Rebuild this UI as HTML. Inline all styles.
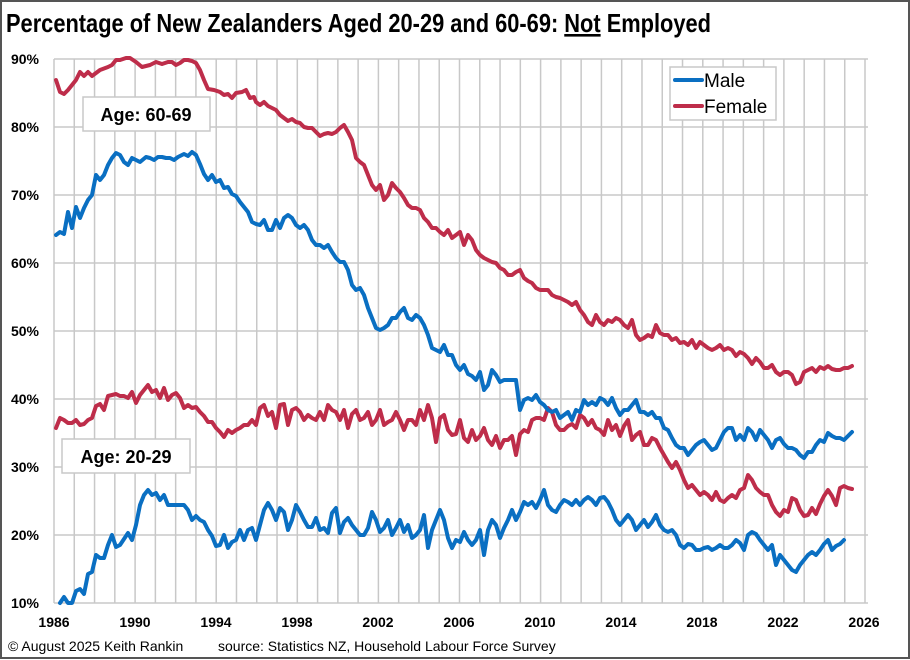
<!DOCTYPE html>
<html><head><meta charset="utf-8"><style>
body{margin:0;background:#fff}
svg{display:block}
text{font-family:"Liberation Sans",Arial,sans-serif}
</style></head><body>
<svg width="910" height="660" viewBox="0 0 910 660" xmlns="http://www.w3.org/2000/svg">
<rect x="1" y="1" width="908" height="657" fill="#fff" stroke="#555" stroke-width="2"/>
<text x="6" y="32" font-size="26" font-weight="bold" textLength="705" lengthAdjust="spacingAndGlyphs">Percentage of New Zealanders Aged 20-29 and 60-69: <tspan text-decoration="underline">Not</tspan> Employed</text>
<g id="grid" stroke="#c8c8c8" stroke-width="1.5"></g>
<g font-size="14" font-weight="bold" text-anchor="end">
<text x="39" y="64">90%</text><text x="39" y="132">80%</text><text x="39" y="200">70%</text><text x="39" y="268">60%</text><text x="39" y="336">50%</text><text x="39" y="404">40%</text><text x="39" y="472">30%</text><text x="39" y="540">20%</text><text x="39" y="608">10%</text>
</g>
<g font-size="14" font-weight="bold" text-anchor="middle">
<text x="54" y="627">1986</text><text x="135" y="627">1990</text><text x="216" y="627">1994</text><text x="297" y="627">1998</text><text x="378" y="627">2002</text><text x="459" y="627">2006</text><text x="540" y="627">2010</text><text x="621" y="627">2014</text><text x="702" y="627">2018</text><text x="783" y="627">2022</text><text x="864" y="627">2026</text>
</g>
<text x="8" y="651" font-size="14">© August 2025 Keith Rankin</text>
<text x="218" y="651" font-size="14">source: Statistics NZ, Household Labour Force Survey</text>
<g fill="none" stroke-width="4" stroke-linejoin="round" stroke-linecap="round">
<polyline stroke="#be2d4a" points="56,80 60,92 64,94 68,90 72,85 76,80 80,72 84,76 88,72 92,76 96,73 100,70 108,67 112,65 116,60 120,60 126,58 130,58 136,62 142,67 150,65 156,62 162,64 168,62 172,62 176,65 180,63 184,60 188,60 192,61 196,63 200,70 204,80 208,89 214,90 220,92 224,95 228,94 232,98 236,93 242,92 246,90 250,98 254,97 256,102 260,105 264,102 268,106 272,108 276,110 280,115 284,118 288,121 292,119 296,122 300,123 304,127 308,128 312,128 316,132 320,136 324,134 328,133 332,134 336,132 340,128 344,125 348,132 352,140 356,158 360,162 364,165 368,175 372,185 376,190 380,185 384,200 388,195 392,183 396,188 400,192 404,198 408,205 412,208 416,208 420,210 424,218 428,222 432,228 436,228 440,232 444,235 448,230 452,238 456,235 460,232 464,245 468,235 472,240 476,250 480,255 484,258 488,260 492,262 496,263 500,268 504,270 508,275 512,275 516,272 520,270 524,278 528,281 532,283 536,288 540,290 544,290 548,290 552,295 556,297 560,298 564,300 568,302 572,305 576,302 580,310 584,315 588,322 592,325 596,315 600,322 604,325 608,320 612,322 616,318 620,320 624,325 628,328 632,320 636,335 640,340 644,338 648,335 652,337 656,325 660,333 664,335 668,335 672,340 676,338 680,343 684,342 688,345 692,340 696,348 700,342 704,345 708,348 712,350 716,348 720,345 724,350 728,348 732,350 736,356 740,352 744,354 748,358 752,364 756,358 760,362 764,368 768,368 772,365 776,372 780,375 784,372 788,372 792,375 796,384 800,382 804,372 808,370 812,368 816,372 820,367 824,369 828,366 832,369 836,370 840,370 844,368 848,368 852,366"/>
<polyline stroke="#be2d4a" points="56,428 60,418 64,420 68,423 72,423 76,420 80,425 84,424 88,420 92,418 96,406 100,404 104,410 108,396 112,395 116,394 120,396 124,396 128,398 132,392 136,403 140,395 144,390 148,385 152,392 156,390 160,398 164,388 168,400 172,395 176,393 180,398 184,408 188,405 192,408 196,407 200,412 204,416 208,422 212,422 216,428 220,432 224,437 228,430 232,433 236,430 240,428 244,425 248,425 252,420 256,425 260,408 264,405 268,416 272,412 276,428 280,405 284,404 288,425 292,410 296,408 300,412 304,420 308,415 312,418 316,420 320,412 324,420 328,405 332,410 336,412 340,420 344,410 348,428 352,414 356,410 360,420 364,418 368,412 372,425 376,420 380,410 384,425 388,422 392,420 396,412 400,420 404,430 408,420 412,420 416,425 420,410 424,420 428,405 432,418 436,442 440,418 444,415 448,430 452,435 456,434 460,420 464,438 468,442 472,430 476,440 480,436 484,428 488,440 492,445 496,436 500,448 504,440 508,440 512,436 516,455 520,434 524,430 528,432 532,420 536,418 540,418 544,420 548,408 552,412 556,425 560,430 564,430 568,426 572,424 576,428 580,415 584,418 588,425 592,420 596,428 600,430 604,435 608,420 612,430 616,425 620,436 624,426 628,420 632,440 636,435 640,432 644,445 648,445 652,438 656,440 660,448 664,455 668,462 672,468 676,462 680,470 684,480 688,488 692,485 696,490 700,495 704,492 708,495 712,500 716,492 720,500 724,502 728,498 732,495 736,498 740,490 744,488 748,475 752,480 756,488 760,492 764,495 768,495 772,505 776,512 780,516 784,510 788,512 792,498 796,500 800,510 804,516 808,515 812,508 816,514 820,504 824,496 828,490 832,496 836,505 840,488 844,486 848,488 852,489"/>
<polyline stroke="#0a6fc2" points="56,235 60,232 64,234 68,212 72,228 76,207 80,218 84,208 88,200 92,195 96,175 100,180 104,175 108,165 112,158 116,153 120,155 124,162 128,165 132,158 136,160 140,162 146,157 150,158 154,160 158,157 162,157 166,158 170,158 174,160 178,157 184,154 188,156 192,152 196,155 200,164 204,174 208,180 212,175 216,182 220,180 224,188 228,187 232,194 236,196 240,202 244,207 248,212 252,222 256,224 260,225 264,220 268,230 272,230 276,220 280,228 284,218 288,215 292,218 296,225 300,228 304,225 308,230 312,240 316,245 320,245 324,248 328,245 332,252 336,258 340,262 344,262 348,270 352,285 356,290 360,288 364,295 368,308 372,318 376,328 380,330 384,328 388,325 392,318 396,318 400,312 404,308 408,318 412,320 416,315 420,318 424,325 428,335 432,348 436,350 440,352 444,345 448,355 452,355 456,365 460,370 464,365 468,374 472,376 476,380 480,372 484,390 488,385 492,370 496,375 500,382 504,380 508,380 512,380 516,380 520,410 524,400 528,398 532,400 536,395 540,402 544,405 548,410 552,412 556,410 560,418 564,415 568,412 572,420 576,410 580,412 584,400 588,405 592,402 596,405 600,398 604,400 608,405 612,398 616,408 620,415 624,410 628,410 632,405 636,400 640,412 644,412 648,415 652,412 656,418 660,418 664,428 668,430 672,438 676,445 680,448 684,448 688,455 692,450 696,445 700,442 704,440 708,445 712,450 716,448 720,440 724,432 728,428 732,428 736,440 740,435 744,440 748,428 752,432 756,440 760,430 764,435 768,440 772,448 776,440 780,438 784,444 788,448 792,448 796,450 800,455 804,458 808,452 812,452 816,445 820,440 824,442 828,433 832,436 836,438 840,438 844,440 848,436 852,432"/>
<polyline stroke="#0a6fc2" points="60,603 64,597 68,603 72,603 76,591 80,589 84,594 88,574 92,572 96,555 100,558 104,558 108,545 112,535 116,547 120,545 124,539 128,533 132,540 136,525 140,505 144,495 148,490 152,495 156,493 160,500 164,495 168,505 172,505 176,505 180,505 184,505 188,510 192,520 196,516 200,520 204,522 208,530 212,536 216,546 220,545 224,535 228,548 232,542 236,540 240,530 244,540 248,530 252,528 256,540 260,525 264,510 268,503 272,510 276,520 280,508 284,512 288,530 292,520 296,505 300,512 304,520 308,527 312,527 316,518 320,530 324,528 328,533 332,513 336,508 340,533 344,522 348,518 352,525 356,530 360,535 364,535 368,528 372,512 376,520 380,532 384,528 388,520 392,535 396,528 400,520 404,532 408,525 412,538 416,535 420,530 424,515 428,548 432,530 436,520 440,510 444,520 448,538 452,548 456,540 460,542 464,532 468,540 472,545 476,540 480,530 484,555 488,530 492,520 496,525 500,538 504,528 508,520 512,510 516,520 520,512 524,502 528,505 532,502 536,508 540,500 544,490 548,505 552,510 556,512 560,505 564,500 568,502 572,505 576,500 580,505 584,500 588,497 592,500 596,505 600,498 604,497 608,502 612,510 616,520 620,525 624,520 628,515 632,520 636,530 640,525 644,520 648,527 652,522 656,515 660,525 664,530 668,532 672,530 676,535 680,545 684,548 688,544 692,545 696,550 700,550 704,548 708,547 712,550 716,548 720,545 724,548 728,548 732,545 736,540 740,543 744,550 748,535 752,532 756,534 760,540 764,545 768,550 772,545 776,565 780,555 784,560 788,565 792,570 796,572 800,565 804,560 808,555 812,552 816,555 820,550 824,544 828,540 832,550 836,546 840,544 844,540"/>
</g>
<rect x="670" y="67" width="106" height="53" fill="#fff" stroke="#c8c8c8" stroke-width="1.5"/>
<line x1="675" y1="80" x2="702" y2="80" stroke="#0a6fc2" stroke-width="4" stroke-linecap="round"/>
<line x1="675" y1="106" x2="702" y2="106" stroke="#be2d4a" stroke-width="4" stroke-linecap="round"/>
<text x="704" y="87" font-size="19">Male</text>
<text x="704" y="113" font-size="19">Female</text>
<rect x="83" y="97" width="127" height="34" fill="#fff" stroke="#c8c8c8" stroke-width="1.5"/>
<text x="146" y="121" font-size="18" font-weight="bold" text-anchor="middle">Age: 60-69</text>
<rect x="62" y="439" width="128" height="34" fill="#fff" stroke="#c8c8c8" stroke-width="1.5"/>
<text x="126" y="463" font-size="18" font-weight="bold" text-anchor="middle">Age: 20-29</text>
</svg>
<script>
var g=document.getElementById('grid'),s='';
for(var i=0;i<=40;i++){var x=54+i*20.275;s+='<line x1="'+x+'" y1="59" x2="'+x+'" y2="603"/>';}
for(var j=0;j<=8;j++){var y=59+j*68;s+='<line x1="54" y1="'+y+'" x2="868" y2="'+y+'"/>';}
g.innerHTML=s;
</script>
</body></html>
